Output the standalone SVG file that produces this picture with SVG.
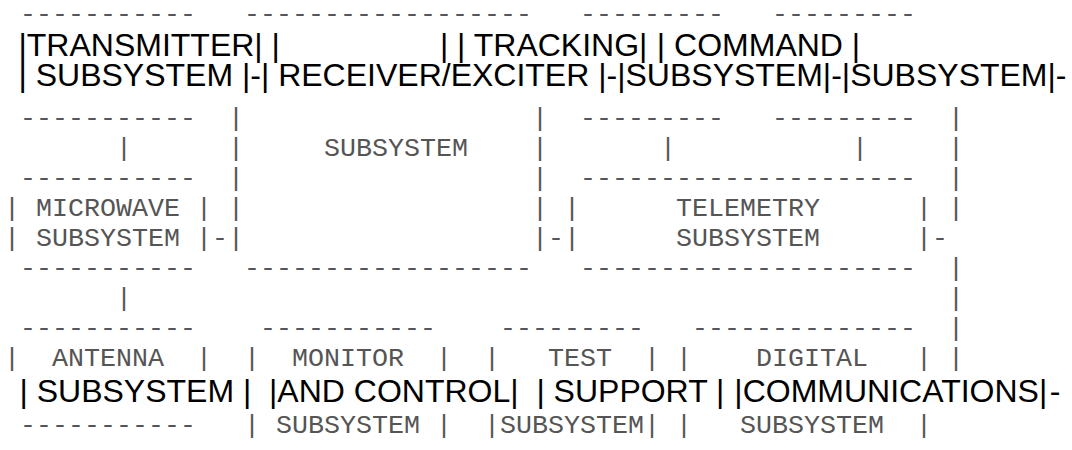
<svg xmlns="http://www.w3.org/2000/svg" width="1072" height="450" viewBox="0 0 1072 450" xml:space="preserve">
  <style>
    text { white-space: pre; }
    .m { font-family: "Liberation Mono", "Courier New", monospace; font-size: 26.667px; fill: #555; }
    .s { font-family: "Liberation Sans", Arial, sans-serif; font-size: 32px; fill: #000; }
  </style>
  <rect width="1072" height="450" fill="#fff"/>

  <!-- mono grid: x = 4 + 16*column -->
  <g id="transmitter">
    <text class="m" x="20" y="22.3">-----------</text>
    <text class="s" x="18.5" y="55.5">|TRANSMITTER|</text>
    <text class="s" x="18.5" y="86">| SUBSYSTEM |</text>
    <text class="m" x="20" y="126.3">-----------</text>
  </g>

  <g id="receiver-exciter">
    <text class="m" x="244" y="22.3">------------------</text>
    <text class="s" x="271.56" y="55.5">|</text>
    <text class="s" x="439.91" y="55.5">|</text>
    <text class="s" x="260.94" y="86">| RECEIVER/EXCITER |</text>
    <text class="m" x="228" y="126.3">|</text>
    <text class="m" x="532" y="126.3">|</text>
    <text class="m" x="228" y="156.3">|</text>
    <text class="m" x="324" y="156.3">SUBSYSTEM</text>
    <text class="m" x="532" y="156.3">|</text>
    <text class="m" x="228" y="186.3">|</text>
    <text class="m" x="532" y="186.3">|</text>
    <text class="m" x="228" y="216.3">|</text>
    <text class="m" x="532" y="216.3">|</text>
    <text class="m" x="228" y="246.3">|</text>
    <text class="m" x="532" y="246.3">|</text>
    <text class="m" x="244" y="276.3">------------------</text>
  </g>

  <g id="tracking">
    <text class="m" x="580" y="22.3">---------</text>
    <text class="s" x="457.11" y="55.5">| TRACKING|</text>
    <text class="s" x="617.18" y="86">|SUBSYSTEM|</text>
    <text class="m" x="580" y="126.3">---------</text>
  </g>

  <g id="command">
    <text class="m" x="772" y="22.3">---------</text>
    <text class="s" x="656.86" y="55.5">| COMMAND |</text>
    <text class="s" x="841.84" y="86">|SUBSYSTEM|</text>
    <text class="m" x="772" y="126.3">---------</text>
  </g>

  <g id="microwave">
    <text class="m" x="20" y="186.3">-----------</text>
    <text class="m" x="4" y="216.3">| MICROWAVE |</text>
    <text class="m" x="4" y="246.3">| SUBSYSTEM |</text>
    <text class="m" x="20" y="276.3">-----------</text>
  </g>

  <g id="telemetry">
    <text class="m" x="580" y="186.3">---------------------</text>
    <text class="m" x="564" y="216.3">|      TELEMETRY      |</text>
    <text class="m" x="564" y="246.3">|      SUBSYSTEM      |</text>
    <text class="m" x="580" y="276.3">---------------------</text>
  </g>

  <g id="antenna">
    <text class="m" x="20" y="336.3">-----------</text>
    <text class="m" x="4" y="366.3">|  ANTENNA  |</text>
    <text class="s" x="19.5" y="402">| SUBSYSTEM |</text>
    <text class="m" x="20" y="433.3">-----------</text>
  </g>

  <g id="monitor-control">
    <text class="m" x="260" y="336.3">-----------</text>
    <text class="m" x="244" y="366.3">|  MONITOR  |</text>
    <text class="s" x="269.06" y="402">|AND CONTROL|</text>
    <text class="m" x="244" y="433.3">| SUBSYSTEM |</text>
  </g>

  <g id="test-support">
    <text class="m" x="500" y="336.3">---------</text>
    <text class="m" x="484" y="366.3">|   TEST  |</text>
    <text class="s" x="536.38" y="402">| SUPPORT |</text>
    <text class="m" x="484" y="433.3">|SUBSYSTEM|</text>
  </g>

  <g id="digital-communications">
    <text class="m" x="692" y="336.3">--------------</text>
    <text class="m" x="676" y="366.3">|    DIGITAL   |</text>
    <text class="s" x="734.37" y="402">|COMMUNICATIONS|</text>
    <text class="m" x="676" y="433.3">|   SUBSYSTEM  |</text>
  </g>

  <g id="connectors">
    <!-- links along the top row -->
    <text class="s" x="250.28" y="86">-</text>
    <text class="s" x="606.52" y="86">-</text>
    <text class="s" x="831.18" y="86">-</text>
    <text class="s" x="1055.84" y="86">-</text>
    <!-- drops from the top row -->
    <text class="m" x="116" y="156.3">|</text>
    <text class="m" x="660" y="156.3">|</text>
    <text class="m" x="852" y="156.3">|</text>
    <!-- side links into receiver and telemetry -->
    <text class="m" x="212" y="246.3">-</text>
    <text class="m" x="548" y="246.3">-</text>
    <text class="m" x="932" y="246.3">-</text>
    <!-- microwave to antenna -->
    <text class="m" x="116" y="306.3">|</text>
    <!-- right-hand bus -->
    <text class="m" x="948" y="126.3">|</text>
    <text class="m" x="948" y="156.3">|</text>
    <text class="m" x="948" y="186.3">|</text>
    <text class="m" x="948" y="216.3">|</text>
    <text class="m" x="948" y="276.3">|</text>
    <text class="m" x="948" y="306.3">|</text>
    <text class="m" x="948" y="336.3">|</text>
    <text class="m" x="948" y="366.3">|</text>
    <text class="s" x="1049.65" y="402">-</text>
  </g>
</svg>
